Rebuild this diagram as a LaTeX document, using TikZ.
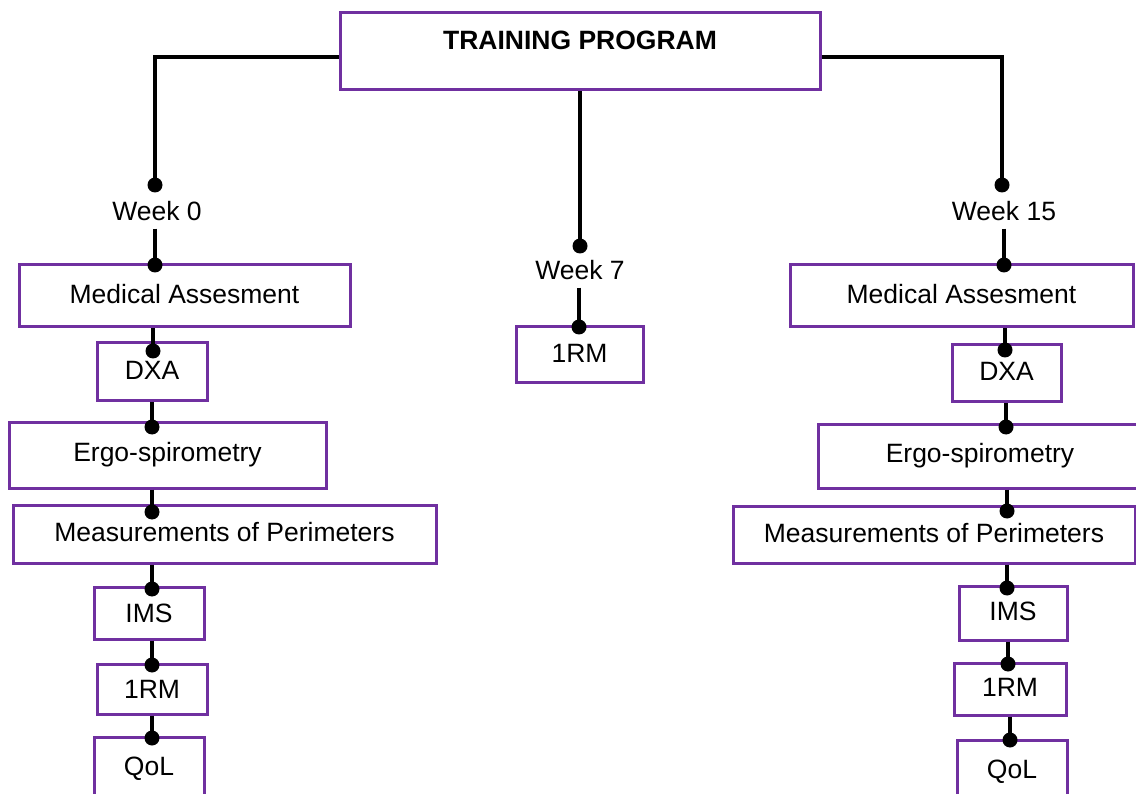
\documentclass[tikz,border=0pt]{standalone}
\usepackage{fontspec}
\setmainfont{Liberation Sans}
\definecolor{boxpurple}{HTML}{7030A0}
\tikzset{
  box/.style={draw=boxpurple, line width=3pt, rectangle, inner sep=0pt,
    text height=19pt, text depth=4pt, font=\fontsize{26.5}{32}\selectfont},
  wk/.style={inner xsep=0pt, inner ysep=8pt, text height=19pt, text depth=0pt,
    font=\fontsize{26.5}{32}\selectfont},
  conn/.style={line width=3.2pt, black},
  dotm/.style={fill=black},
}
\begin{document}
\begin{tikzpicture}[x=1pt,y=-1pt]
\useasboundingbox (0,0) rectangle (1136,794);
\clip (0,0) rectangle (1136,794);

% top
\node[box, minimum width=480pt, minimum height=77pt, text depth=23pt,
  font=\fontsize{26.5}{32}\selectfont\bfseries] (top) at (580,51.5) {TRAINING PROGRAM};

% week labels
\node[wk] (weekL) at (157,211) {Week 0};
\node[wk] (weekM) at (580,270) {Week 7};
\node[wk] (weekR) at (1004,211) {Week 15};

% left column
\node[box, minimum width=331pt, minimum height=62pt] (medL) at (184.5,296) {Medical Assesment};
\node[box, minimum width=110pt, minimum height=58pt] (dxaL) at (152,372) {DXA};
\node[box, minimum width=317pt, minimum height=65pt, text depth=8pt] (ergoL) at (167.5,455.5) {Ergo-spirometry};
\node[box, minimum width=423pt, minimum height=58pt] (measL) at (224.5,534) {Measurements of Perimeters};
\node[box, minimum width=110pt, minimum height=52pt, text depth=0pt] (imsL) at (149,613) {IMS};
\node[box, minimum width=110pt, minimum height=50pt, text depth=0pt] (rmL) at (152,689) {1RM};
\node[box, minimum width=110pt, minimum height=62pt] (qolL) at (149,768) {QoL};

% middle
\node[box, minimum width=127pt, minimum height=56pt] (rmM) at (579.5,355) {1RM};

% right column
\node[box, minimum width=343pt, minimum height=62pt] (medR) at (961.5,296) {Medical Assesment};
\node[box, minimum width=109pt, minimum height=57pt] (dxaR) at (1006.5,373.5) {DXA};
\node[box, minimum width=324pt, minimum height=63pt, text depth=8pt] (ergoR) at (980,456.5) {Ergo-spirometry};
\node[box, minimum width=402pt, minimum height=57pt] (measR) at (934,534.5) {Measurements of Perimeters};
\node[box, minimum width=108pt, minimum height=54pt] (imsR) at (1013,613) {IMS};
\node[box, minimum width=112pt, minimum height=52pt] (rmR) at (1010,689) {1RM};
\node[box, minimum width=110pt, minimum height=62pt] (qolR) at (1012,771) {QoL};

% dot coordinates
\coordinate (jL) at (155,185);
\coordinate (jM) at (580,246);
\coordinate (jR) at (1002,185);
\coordinate (aL) at (155,265);
\coordinate (bL) at (153,351);
\coordinate (cL) at (152,427);
\coordinate (eL) at (152,512);
\coordinate (fL) at (152,589);
\coordinate (gL) at (152,665);
\coordinate (hL) at (152,738);
\coordinate (aM) at (579,327);
\coordinate (aR) at (1004,265);
\coordinate (bR) at (1005,350);
\coordinate (cR) at (1006,427);
\coordinate (eR) at (1007,511);
\coordinate (fR) at (1007,588);
\coordinate (gR) at (1008,664);
\coordinate (hR) at (1010,740);

% connectors
\draw[conn] ([yshift=-5.5pt]top.west) -| (jL);
\draw[conn] ([yshift=-5.5pt]top.east) -| (jR);
\draw[conn] (top.south) -- (jM);

\draw[conn] (weekL.south -| aL) -- (aL);
\draw[conn] (medL.south -| bL) -- (bL);
\draw[conn] (dxaL.south -| cL) -- (cL);
\draw[conn] (ergoL.south -| eL) -- (eL);
\draw[conn] (measL.south -| fL) -- (fL);
\draw[conn] (imsL.south -| gL) -- (gL);
\draw[conn] (rmL.south -| hL) -- (hL);

\draw[conn] (weekM.south -| aM) -- (aM);

\draw[conn] (weekR.south -| aR) -- (aR);
\draw[conn] (medR.south -| bR) -- (bR);
\draw[conn] (dxaR.south -| cR) -- (cR);
\draw[conn] (ergoR.south -| eR) -- (eR);
\draw[conn] (measR.south -| fR) -- (fR);
\draw[conn] (imsR.south -| gR) -- (gR);
\draw[conn] (rmR.south -| hR) -- (hR);

% dots
\foreach \d in {jL,jM,jR,aL,bL,cL,eL,fL,gL,hL,aM,aR,bR,cR,eR,fR,gR,hR}
  \fill[dotm] (\d) circle (7.5pt);
\end{tikzpicture}
\end{document}
